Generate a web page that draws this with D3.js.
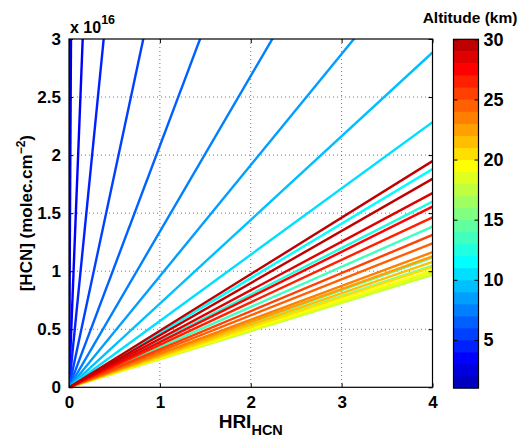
<!DOCTYPE html>
<html>
<head>
<meta charset="utf-8">
<script src="https://cdn.jsdelivr.net/npm/d3@7"></script>
<style>
  body { margin: 0; background: #fff; }
  text { font-family: "Liberation Sans", Arial, sans-serif; font-weight: bold; fill: #000; }
</style>
</head>
<body>
<svg id="chart"></svg>
<script>
// altitude of each line (km)
const altitudes = [1, 2, 3, 4, 5, 6, 7, 8, 9, 10, 11, 12, 13, 14, 15,
                   16, 17, 18, 19, 20, 21, 22, 23, 24, 25, 26, 27, 28, 29, 30];
// slope of [HCN] vs HRI, in 1e16 molec.cm-2 per HRI unit
const slopes = [400, 136, 19.9, 7.86, 3.67, 2.08, 1.341, 0.957, 0.721, 0.571,
                0.470, 0.400, 0.346, 0.279, 0.262, 0.250, 0.242, 0.246, 0.252, 0.259,
                0.270, 0.282, 0.291, 0.310, 0.328, 0.366, 0.389, 0.418, 0.449, 0.487];
const xTicks = [0, 1, 2, 3, 4];
const yTicks = [0, 0.5, 1, 1.5, 2, 2.5, 3];
const cbTicks = [5, 10, 15, 20, 25, 30];
const nColors = 29;

const width = 526, height = 439;
const margin = { top: 39, right: 93.5, bottom: 51.7, left: 69 };
const innerW = width - margin.left - margin.right;
const innerH = height - margin.top - margin.bottom;

// same recipe as matlab's jet(m), returns array of rgb strings
const jetMap = m => {
    const n = Math.ceil(m / 4);
    const u = [];
    for (let i = 1; i <= n; i++) u.push(i / n);
    for (let i = 1; i < n; i++) u.push(1);
    for (let i = n; i >= 1; i--) u.push(i / n);
    const g0 = Math.ceil(n / 2) - (m % 4 === 1 ? 1 : 0);
    const r = new Array(m).fill(0), g = new Array(m).fill(0), b = new Array(m).fill(0);
    u.forEach((v, j) => {
        const gi = g0 + j + 1, ri = gi + n, bi = gi - n;
        if (gi >= 1 && gi <= m) g[gi - 1] = v;
        if (ri >= 1 && ri <= m) r[ri - 1] = v;
        if (bi >= 1 && bi <= m) b[bi - 1] = v;
    });
    return d3.range(m).map(i => `rgb(${Math.round(r[i] * 255)},${Math.round(g[i] * 255)},${Math.round(b[i] * 255)})`);
};
const cmap = jetMap(nColors);
const colorOf = alt => cmap[Math.min(nColors - 1, Math.max(0, Math.floor(alt - 1)))];

const svg = d3.select('#chart').attr('width', width).attr('height', height);
const chart = svg.append('g').attr('transform', `translate(${margin.left},${margin.top})`);

const x = d3.scaleLinear().domain([0, 4]).range([0, innerW]);
const y = d3.scaleLinear().domain([0, 3]).range([innerH, 0]);

// grid
chart.append('g').selectAll('line').data(xTicks.slice(1, -1)).join('line')
    .attr('x1', d => x(d)).attr('x2', d => x(d)).attr('y1', 0).attr('y2', innerH)
    .attr('stroke', '#555').attr('stroke-width', 0.8).attr('stroke-dasharray', '1,3');
chart.append('g').selectAll('line').data(yTicks.slice(1, -1)).join('line')
    .attr('y1', d => y(d)).attr('y2', d => y(d)).attr('x1', 0).attr('x2', innerW)
    .attr('stroke', '#555').attr('stroke-width', 0.8).attr('stroke-dasharray', '1,3');

// lines
chart.append('clipPath').attr('id', 'clip')
    .append('rect').attr('width', innerW).attr('height', innerH);

const lineData = altitudes.map((a, i) => ({ alt: a, pts: [[0, 0], [4, slopes[i] * 4]] }));
const line = d3.line().x(d => x(d[0])).y(d => y(d[1]));

chart.append('g').attr('clip-path', 'url(#clip)')
    .selectAll('path').data(lineData).join('path')
    .attr('d', d => line(d.pts))
    .attr('fill', 'none')
    .attr('stroke', d => colorOf(d.alt))
    .attr('stroke-width', 2.4);

// axes (ticks inward, box)
const tickLen = 4;
chart.append('rect').attr('width', innerW).attr('height', innerH)
    .attr('fill', 'none').attr('stroke', '#000').attr('stroke-width', 1.2);

const xAxisG = chart.append('g').attr('transform', `translate(0,${innerH})`)
    .call(d3.axisBottom(x).tickValues(xTicks).tickSize(-tickLen).tickPadding(9).tickFormat(d3.format('d')));
const xTopG = chart.append('g')
    .call(d3.axisTop(x).tickValues(xTicks).tickSize(-tickLen).tickFormat(''));
const yAxisG = chart.append('g')
    .call(d3.axisLeft(y).tickValues(yTicks).tickSize(-tickLen).tickPadding(8).tickFormat(d => d));
const yRightG = chart.append('g').attr('transform', `translate(${innerW},0)`)
    .call(d3.axisRight(y).tickValues(yTicks).tickSize(-tickLen).tickFormat(''));

[xAxisG, xTopG, yAxisG, yRightG].forEach(g => {
    g.select('.domain').remove();
    g.selectAll('line').attr('stroke', '#000').attr('stroke-width', 1);
    g.selectAll('text').attr('font-size', 17).attr('font-family', '"Liberation Sans", Arial, sans-serif');
});

// exponent
const expo = chart.append('text').attr('x', 1).attr('y', -6).attr('font-size', 16);
expo.append('tspan').text('x 10');
expo.append('tspan').attr('font-size', 12.5).attr('dy', -9).text('16');

// axis labels
const xl = chart.append('text').attr('x', innerW / 2).attr('y', innerH + 41)
    .attr('text-anchor', 'middle').attr('font-size', 19);
xl.append('tspan').text('HRI');
xl.append('tspan').attr('font-size', 14.5).attr('dy', 7).text('HCN');

const yl = chart.append('text')
    .attr('transform', `translate(-37,${innerH / 2}) rotate(-90)`)
    .attr('text-anchor', 'middle').attr('font-size', 17);
yl.append('tspan').text('[HCN] (molec.cm');
yl.append('tspan').attr('font-size', 12).attr('dy', -7).text('\u22122');
yl.append('tspan').attr('dy', 7).text(')');

// colorbar
const cb = { x: 453.5, w: 25, top: 39.3, bottom: 388 };
const cbScale = d3.scaleLinear().domain([1, 30]).range([cb.bottom, cb.top]);
const bins = d3.range(nColors).map(k => ({ lo: 1 + k, hi: 2 + k, k }));
const cbG = svg.append('g');
cbG.selectAll('rect').data(bins).join('rect')
    .attr('x', cb.x).attr('width', cb.w)
    .attr('y', d => cbScale(d.hi)).attr('height', d => cbScale(d.lo) - cbScale(d.hi) + 0.5)
    .attr('fill', d => cmap[d.k]);
cbG.append('rect').attr('x', cb.x).attr('y', cb.top).attr('width', cb.w).attr('height', cb.bottom - cb.top)
    .attr('fill', 'none').attr('stroke', '#000').attr('stroke-width', 1.2);

const cbAxis = cbG.append('g').attr('transform', `translate(${cb.x + cb.w},0)`)
    .call(d3.axisRight(cbScale).tickValues(cbTicks).tickSize(-tickLen).tickPadding(5));
cbAxis.select('.domain').remove();
cbAxis.selectAll('line').attr('stroke', '#000');
cbAxis.selectAll('text').attr('font-size', 18).attr('font-family', '"Liberation Sans", Arial, sans-serif');
const cbAxisL = cbG.append('g').attr('transform', `translate(${cb.x},0)`)
    .call(d3.axisLeft(cbScale).tickValues(cbTicks).tickSize(-tickLen).tickFormat(''));
cbAxisL.select('.domain').remove();
cbAxisL.selectAll('line').attr('stroke', '#000');

svg.append('text').attr('x', 470).attr('y', 23).attr('text-anchor', 'middle')
    .attr('font-size', 15.5).text('Altitude (km)');
</script>
</body>
</html>
